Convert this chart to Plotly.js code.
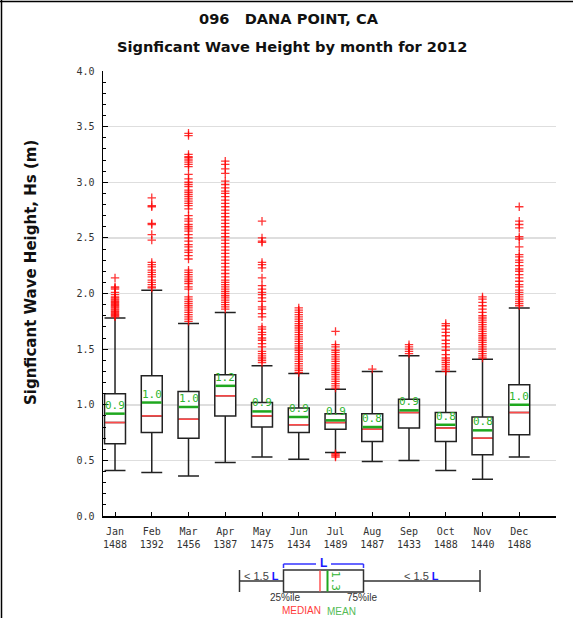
<!DOCTYPE html>
<html>
<head>
<meta charset="utf-8">
<script src="https://cdn.plot.ly/plotly-3.0.1.min.js"></script>
<style>html,body{margin:0;padding:0;background:#fff;}#chart{width:573px;height:618px;}</style>
</head>
<body>
<div id="chart"></div>
<script>
// ---- data ----
const months = ["Jan","Feb","Mar","Apr","May","Jun","Jul","Aug","Sep","Oct","Nov","Dec"];
const counts = [1488,1392,1456,1387,1475,1434,1489,1487,1433,1488,1440,1488];
const lowerWhisker = [0.41,0.39,0.36,0.48,0.53,0.51,0.57,0.49,0.50,0.41,0.33,0.53];
const q1 =           [0.65,0.75,0.70,0.90,0.80,0.75,0.78,0.67,0.79,0.67,0.55,0.73];
const medians =      [0.84,0.90,0.87,1.08,0.90,0.82,0.84,0.78,0.93,0.79,0.70,0.93];
const means =        [0.92,1.02,0.98,1.17,0.94,0.89,0.86,0.80,0.95,0.82,0.77,1.00];
const q3 =           [1.10,1.26,1.12,1.27,1.02,0.97,0.92,0.92,1.05,0.93,0.89,1.18];
const upperWhisker = [1.78,2.03,1.73,1.83,1.35,1.28,1.14,1.30,1.44,1.30,1.41,1.87];
const meanLabels = ["0.9","1.0","1.0","1.2","0.9","0.9","0.9","0.8","0.9","0.8","0.8","1.0"];

const outJan = [2.14,2.06,2.05,2.04,2.01,1.99,1.97,1.96,1.95,1.94,1.93,1.92,1.91,1.90,1.89,1.88,1.87,1.86,1.85,1.84,1.83,1.82,1.81,1.80,1.79];
const outFeb = [2.86,2.79,2.78,2.63,2.62,2.53,2.48,2.28,2.26,2.24,2.21,2.19,2.17,2.15,2.12,2.10,2.08,2.06,2.05];
const outMar = [3.44,3.42,3.25,3.23,3.22,3.20,3.18,3.16,3.14,3.07,3.03,3.00,2.98,2.96,2.93,2.91,2.89,2.87,2.85,2.83,2.81,2.79,2.76,2.70,2.67,2.65,2.62,2.60,2.58,2.56,2.53,2.50,2.47,2.44,2.42,2.39,2.37,2.34,2.31,2.21,2.19,2.17,2.15,2.13,2.11,2.09,2.06,2.04,1.97,1.95,1.93,1.91,1.89,1.87,1.85,1.83,1.81,1.79,1.77,1.75];
const outApr = [3.19,3.16,3.12,3.08,3.01,2.98,2.95,2.92,2.90,2.87,2.84,2.81,2.78,2.75,2.72,2.69,2.66,2.63,2.60,2.57,2.54,2.51,2.48,2.45,2.42,2.39,2.36,2.33,2.30,2.27,2.24,2.21,2.18,2.15,2.12,2.10,2.08,2.06,2.04,2.02,2.00,1.98,1.96,1.94,1.92,1.90,1.88,1.86];
const outMay = [2.65,2.50,2.47,2.46,2.28,2.26,2.23,2.14,2.07,2.04,2.01,1.99,1.96,1.93,1.88,1.86,1.82,1.79,1.70,1.68,1.65,1.63,1.60,1.58,1.55,1.52,1.48,1.46,1.44,1.42,1.40,1.38];
const outJun = [1.87,1.85,1.83,1.81,1.79,1.77,1.75,1.73,1.71,1.69,1.67,1.65,1.63,1.61,1.59,1.57,1.55,1.53,1.51,1.49,1.47,1.45,1.43,1.41,1.39,1.37,1.35,1.33,1.31,1.29];
const outJul = [1.66,1.54,1.52,1.49,1.47,1.45,1.43,1.41,1.39,1.37,1.35,1.33,1.31,1.29,1.27,1.25,1.23,1.21,1.19,1.17,1.15,0.56,0.55,0.54,0.53];
const outAug = [1.32];
const outSep = [1.54,1.52,1.50,1.48,1.46];
const outOct = [1.73,1.71,1.68,1.65,1.62,1.58,1.55,1.52,1.49,1.45,1.42,1.40,1.38,1.36,1.34,1.32,1.30];
const outNov = [1.97,1.95,1.92,1.89,1.86,1.83,1.80,1.78,1.76,1.74,1.72,1.70,1.68,1.66,1.64,1.62,1.60,1.58,1.56,1.54,1.52,1.50,1.48,1.46,1.44,1.42];
const outDec = [2.78,2.65,2.62,2.59,2.51,2.49,2.42,2.35,2.33,2.30,2.28,2.25,2.22,2.20,2.17,2.14,2.11,2.08,2.06,2.03,2.01,1.99,1.97,1.95,1.93,1.91,1.89];
const outliers = [outJan,outFeb,outMar,outApr,outMay,outJun,outJul,outAug,outSep,outOct,outNov,outDec];

// ---- styling constants ----
const BOXW = 0.57, HALF = BOXW/2;
const GREEN = '#1fa81f', RED = '#ff4a4a', MONO = '"DejaVu Sans Mono", monospace';
const idx = months.map((m,i)=>i);

const traces = [];
traces.push({
  type:'box', x: idx, q1: q1, median: medians, q3: q3,
  lowerfence: lowerWhisker, upperfence: upperWhisker,
  boxpoints:false, width: BOXW, whiskerwidth: 1,
  fillcolor:'#ffffff', line:{color:'#222', width:1.5},
  hoverinfo:'skip'
});
// outliers
const ox=[], oy=[];
outliers.forEach((arr,i)=>arr.forEach(v=>{ox.push(i); oy.push(v);}));
traces.push({type:'scatter', mode:'markers', x:ox, y:oy,
  marker:{symbol:'cross-thin', size:6, color:'#ff0000', line:{color:'rgba(255,0,0,0.8)', width:1.3}},
  hoverinfo:'skip'});
// medians & means
function segs(vals){const x=[],y=[];vals.forEach((v,i)=>{x.push(i-HALF+0.02,i+HALF-0.02,null);y.push(v,v,null);});return {x,y};}
const ms = segs(medians), mn = segs(means);
traces.push({type:'scatter', mode:'lines', x:ms.x, y:ms.y, line:{color:RED,width:1.6}, hoverinfo:'skip'});
traces.push({type:'scatter', mode:'lines', x:mn.x, y:mn.y, line:{color:GREEN,width:2.5}, hoverinfo:'skip'});

// pixel helpers for decoration (plot area: x 103..556, y 71..516)
const L=103, R=556, T=71, B=516;
const px = v => (v-L)/(R-L);
const py = v => (B-v)/(B-T);

const annotations = [];
means.forEach((m,i)=>annotations.push({x:i, y:m, xref:'x', yref:'y', text:meanLabels[i], showarrow:false,
  xanchor:'center', yanchor:'bottom', yshift:0, font:{family:MONO, size:11, color:'#2fb52f'}}));

function note(x,y,text,font,extra){return Object.assign({xref:'paper', yref:'paper', x:px(x), y:py(y), text:text, showarrow:false,
  xanchor:'center', yanchor:'middle', font:font}, extra||{});}
// titles
annotations.push(note(289,18,'096\u00a0\u00a0\u00a0DANA POINT, CA',{family:'DejaVu Sans', size:14.6, color:'#111', weight:'bold'}));
annotations.push(note(292,46,'Signficant Wave Height by month for 2012',{family:'DejaVu Sans', size:14.6, color:'#111', weight:'bold'}));
annotations.push(note(31,273,'Signficant Wave Height, Hs (m)',{family:'DejaVu Sans', size:15, color:'#111', weight:'bold'},{textangle:-90}));

// legend diagram
const LF = 'Liberation Sans, Arial, sans-serif';
annotations.push(note(323.5,563,'<b>L</b>',{family:LF,size:12,color:'#1a1aff'}));
annotations.push(note(261,576,'&lt; 1.5 <b><span style="color:#1a1aff">L</span></b>',{family:LF,size:11,color:'#444'}));
annotations.push(note(421,576,'&lt; 1.5 <b><span style="color:#1a1aff">L</span></b>',{family:LF,size:11,color:'#444'}));
annotations.push(note(285,597.5,'25%ile',{family:LF,size:10,color:'#333'},{borderpad:0}));
annotations.push(note(362,597.5,'75%ile',{family:LF,size:10,color:'#333'},{borderpad:0}));
annotations.push(note(301,610.5,'MEDIAN',{family:LF,size:10,color:'#ff3b3b'},{borderpad:0}));
annotations.push(note(341,611,'MEAN',{family:LF,size:10,color:'#55bb55'},{borderpad:0}));
annotations.push(note(336,581,'1.3',{family:MONO,size:11,color:'#2fb52f'},{textangle:90}));

const K='#333';
function ln(x0,y0,x1,y1,color,w){return {type:'line', xref:'paper', yref:'paper', x0:px(x0), y0:py(y0), x1:px(x1), y1:py(y1), line:{color:color||K, width:w||1.5}};}
const shapes = [
  ln(239.5,570,239.5,592), ln(239.5,581,283.5,581),
  {type:'rect', xref:'paper', yref:'paper', x0:px(283.5), y0:py(570), x1:px(363.5), y1:py(592), line:{color:K,width:1.5}, fillcolor:'rgba(0,0,0,0)'},
  ln(320,570.5,320,591.5,'#ff5555',1.5), ln(327.5,570.5,327.5,591.5,GREEN,2),
  ln(363.5,581,480,581), ln(480,570,480,592),
  ln(283.5,568,283.5,564,'#3333ff',1.5), ln(283.5,564,316,564,'#3333ff',1.5),
  ln(331,564,363.5,564,'#3333ff',1.5), ln(363.5,564,363.5,568,'#3333ff',1.5),
  // frame
  ln(1.5,0,1.5,618,'#000',1.5), ln(0,1.5,573,1.5,'#000',1.5)
];

const layout = {
  width:573, height:618,
  margin:{l:L, r:573-R, t:T, b:618-B, pad:0},
  paper_bgcolor:'#fff', plot_bgcolor:'#fff',
  showlegend:false,
  xaxis:{range:[-0.327,12.0], tickvals:idx.concat([12]), ticktext:months.map((m,i)=>m+'<br>'+counts[i]).concat(['']),
    ticks:'inside', ticklen:4, tickcolor:'#000', tickwidth:1, showline:true, linecolor:'#000', linewidth:1.5,
    ticklabelstandoff:5,
    showgrid:false, zeroline:false, tickfont:{family:MONO,size:10,color:'#333'}, fixedrange:true},
  yaxis:{range:[0,4], dtick:0.5, tickformat:'.1f', ticks:'inside', ticklen:5, tickcolor:'#000', tickwidth:1,
    ticklabelstandoff:5,
    showline:true, linecolor:'#000', linewidth:1.5, showgrid:true, gridcolor:'#dedede', gridwidth:1.5, zeroline:false,
    minor:{dtick:0.1, ticks:'inside', ticklen:3, tickcolor:'#000', showgrid:false},
    tickfont:{family:MONO,size:10,color:'#333'}, fixedrange:true},
  annotations: annotations, shapes: shapes
};
Plotly.newPlot('chart', traces, layout, {staticPlot:true, displayModeBar:false});
</script>
</body>
</html>
